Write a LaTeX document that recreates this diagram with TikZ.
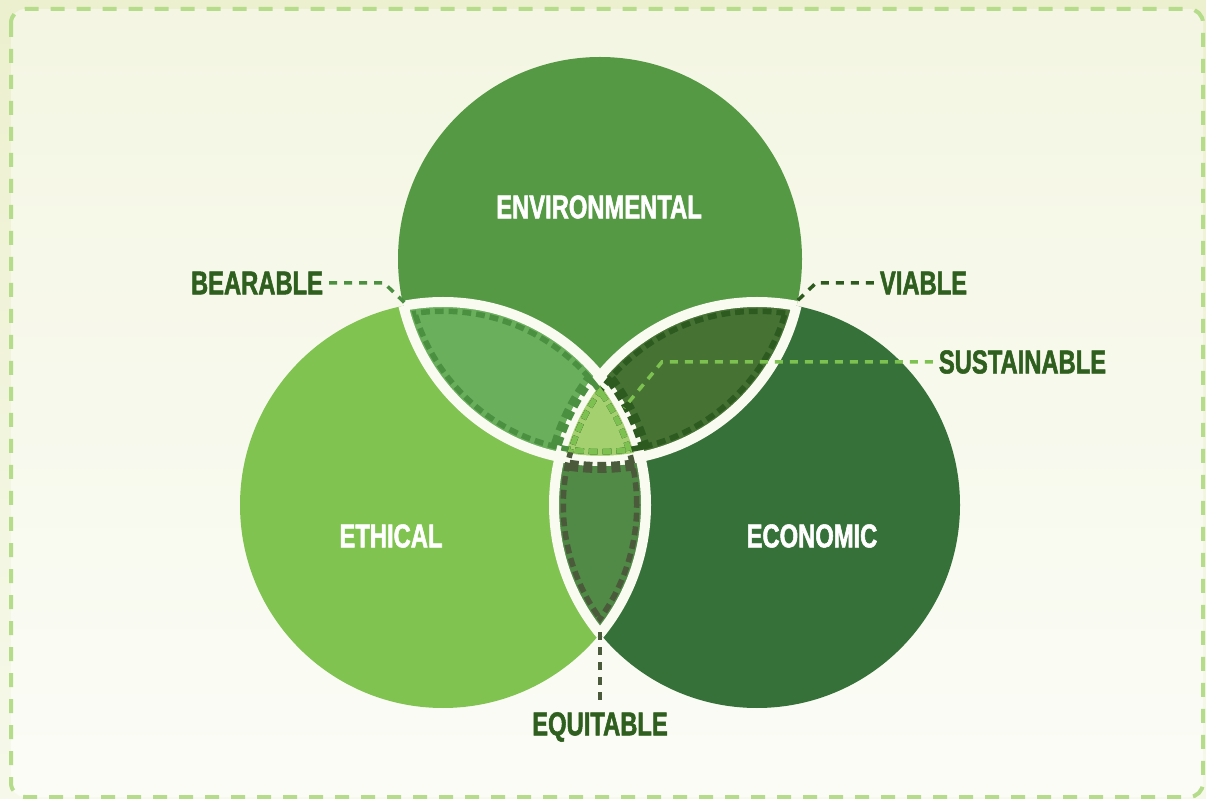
\documentclass[tikz,border=0pt]{standalone}
\usepackage{fontspec}
\newfontfamily\vennfont[FakeStretch=0.72,FakeBold=1.6]{Liberation Sans}
\usetikzlibrary{positioning}

\definecolor{bgtop}{HTML}{EDF0CE}
\definecolor{bgbottom}{HTML}{F6F9EA}
\definecolor{paneltop}{HTML}{F4F6E3}
\definecolor{panelbottom}{HTML}{FBFCF6}
\definecolor{framegreen}{HTML}{B5DC8A}
\definecolor{envgreen}{HTML}{559944}
\definecolor{ethgreen}{HTML}{80C350}
\definecolor{ecogreen}{HTML}{357138}
\definecolor{beargreen}{HTML}{6AAF5C}
\definecolor{viagreen}{HTML}{467334}
\definecolor{equigreen}{HTML}{508A46}
\definecolor{susgreen}{HTML}{A4D070}
\definecolor{beardash}{HTML}{4A9040}
\definecolor{viadash}{HTML}{2C5A1F}
\definecolor{equidash}{HTML}{4B5A3A}
\definecolor{susdash}{HTML}{7DC150}
\definecolor{labelgreen}{HTML}{2F5F1F}
\definecolor{bandwhite}{HTML}{F9FAF0}

\tikzset{
  venn label/.style={inner sep=0pt,font=\vennfont\bfseries\fontsize{33}{33}\selectfont},
  circle label/.style={venn label,text=white},
  side label/.style={venn label,text=labelgreen,outer sep=6pt},
  gap band/.style={draw=bandwhite,line width=10pt},
  lens dash/.style={dash pattern=on 9pt off 5pt,line width=11pt},
  leader/.style={dash pattern=on 8pt off 7pt,line width=3.5pt},
}

\begin{document}
\begin{tikzpicture}[x=1pt,y=1pt]
  \useasboundingbox (0,0) rectangle (1206,798);
  \shade[top color=bgtop,bottom color=bgbottom] (0,0) rectangle (1206,798);
  \shade[top color=paneltop,bottom color=panelbottom,rounded corners=14pt] (11,789) rectangle (1203,1);
  \draw[framegreen,line width=4pt,dash pattern=on 14pt off 12pt,rounded corners=14pt] (11,789) rectangle (1203,1);

  \coordinate (env) at (600,539);
  \coordinate (eth) at (443,293);
  \coordinate (eco) at (757,293);

  % the three circles
  \fill[envgreen] (env) circle (202);
  \fill[ethgreen] (eth) circle (203);
  \fill[ecogreen] (eco) circle (203);

  % overlaps
  \begin{scope}
    \clip (env) circle (202);
    \fill[beargreen] (eth) circle (203);
    \fill[viagreen] (eco) circle (203);
  \end{scope}
  \begin{scope}
    \clip (eth) circle (203);
    \fill[equigreen] (eco) circle (203);
    \clip (env) circle (202);
    \fill[susgreen] (eco) circle (203);
  \end{scope}

  % white gaps
  \foreach \a/\ra/\b/\rb in {env/202/eth/203,env/202/eco/203,eth/203/env/202,eth/203/eco/203,eco/203/env/202,eco/203/eth/203}{
    \begin{scope}
      \clip (\b) circle (\rb);
      \draw[gap band] (\a) circle (\ra);
    \end{scope}
  }

  % dashed insets (clockwise box minus circle keeps the outside)
  \begin{scope}
    \clip (env) circle (195.5);
    \clip (eth) circle (196.5);
    \clip (-100,900) rectangle (1400,-100) (eco) circle (209.5);
    \draw[lens dash,beardash] (env) circle (195.5) (eth) circle (196.5) (eco) circle (209.5);
  \end{scope}
  \begin{scope}
    \clip (env) circle (195.5);
    \clip (eco) circle (196.5);
    \clip (-100,900) rectangle (1400,-100) (eth) circle (209.5);
    \draw[lens dash,viadash] (env) circle (195.5) (eco) circle (196.5) (eth) circle (209.5);
  \end{scope}
  \begin{scope}
    \clip (eth) circle (196.5);
    \clip (eco) circle (196.5);
    \clip (-100,900) rectangle (1400,-100) (env) circle (208.5);
    \draw[lens dash,equidash] (eth) circle (196.5) (eco) circle (196.5) (env) circle (208.5);
  \end{scope}
  \begin{scope}
    \clip (env) circle (195.5);
    \clip (eth) circle (196.5);
    \clip (eco) circle (196.5);
    \draw[lens dash,susdash] (env) circle (195.5) (eth) circle (196.5) (eco) circle (196.5);
  \end{scope}

  % labels
  \node[circle label] (environmental) at (599,591) {ENVIRONMENTAL};
  \node[circle label] (ethical) at (391,262) {ETHICAL};
  \node[circle label] (economic) at (812,262) {ECONOMIC};

  \node[side label] (bearable) at (257,515) {BEARABLE};
  \node[side label] (viable) at (923.5,515) {VIABLE};
  \node[side label] (sustainable) at (1022.5,436) {SUSTAINABLE};
  \node[side label] (equitable) at (600,71) {EQUITABLE};

  \coordinate (bearcorner) at (406,494);
  \coordinate (viacorner) at (794,494);
  \coordinate (suscorner) at (624,390);
  \coordinate (equicorner) at (600,166);

  % leaders
  \draw[leader,beardash] (bearable.east) -- ++(55,0) -- (bearcorner);
  \draw[leader,viadash] (viable.west) -- ++(-58,0) -- (viacorner);
  \draw[leader,susdash] (sustainable.west) -- ++(-271,0) -- (suscorner);
  \draw[leader,equidash] (equicorner) -- (equitable.north);
\end{tikzpicture}
\end{document}
